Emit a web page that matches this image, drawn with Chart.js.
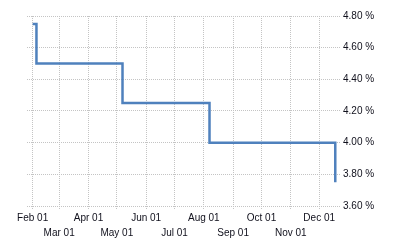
<!DOCTYPE html>
<html>
<head>
<meta charset="utf-8">
<script src="https://cdn.jsdelivr.net/npm/chart.js@4.4.1/dist/chart.umd.min.js"></script>
<style>
html,body{margin:0;padding:0;background:#fff;}
#wrap{position:relative;width:400px;height:250px;}
</style>
</head>
<body>
<div id="wrap"><canvas id="c" width="400" height="250"></canvas></div>
<script>
// data
var changeDates=["2001-02-01","2001-02-05","2001-05-07","2001-08-07","2001-12-18"];
var rates=[4.75,4.50,4.25,4.00,3.75];
var tickMonths=["2001-02-01","2001-03-01","2001-04-01","2001-05-01","2001-06-01","2001-07-01","2001-08-01","2001-09-01","2001-10-01","2001-11-01","2001-12-01"];
var tickLabels=["Feb 01","Mar 01","Apr 01","May 01","Jun 01","Jul 01","Aug 01","Sep 01","Oct 01","Nov 01","Dec 01"];
var yTicks=[3.6,3.8,4.0,4.2,4.4,4.6,4.8];

function dayNum(s){
  var p=s.split("-");
  return Date.UTC(+p[0],+p[1]-1,+p[2])/86400000;
}
var tickDays=tickMonths.map(dayNum);

var txt="#10101c",grid="#c4c4c4",blue="#4f81bd";
var fnt={family:"Liberation Sans",size:10,lineHeight:1.5};

new Chart(document.getElementById("c"),{
  type:"line",
  data:{
    datasets:[{
      data:changeDates.map(function(d,i){return{x:dayNum(d),y:rates[i]};}),
      borderColor:blue,
      borderWidth:2.5,
      pointRadius:0,
      stepped:true,
      fill:false
    }]
  },
  options:{
    responsive:false,
    animation:false,
    plugins:{legend:{display:false},tooltip:{enabled:false}},
    layout:{padding:{top:16,left:27,right:0,bottom:0}},
    scales:{
      x:{
        type:"linear",
        min:dayNum("2001-01-26"),
        max:dayNum("2001-12-23"),
        afterBuildTicks:function(ax){ax.ticks=tickDays.map(function(v){return{value:v};});},
        afterFit:function(ax){ax.height=44;},
        border:{display:false,dash:[1,1]},
        grid:{color:grid,lineWidth:1,tickLength:3,drawTicks:true,tickColor:grid,tickBorderDash:[1,1]},
        ticks:{
          autoSkip:false,maxRotation:0,padding:2,color:txt,font:fnt,
          callback:function(v){
            var i=tickDays.indexOf(v);
            if(i<0)return "";
            return i%2===0?[tickLabels[i],""]:["",tickLabels[i]];
          }
        }
      },
      y:{
        position:"right",
        min:3.6,max:4.8,
        afterBuildTicks:function(ax){ax.ticks=yTicks.map(function(v){return{value:v};});},
        afterFit:function(ax){ax.width=60;},
        border:{display:false,dash:[1,1]},
        grid:{color:grid,lineWidth:1,drawTicks:false},
        ticks:{padding:3,color:txt,font:{family:"Liberation Sans",size:10},
          callback:function(v){return v.toFixed(2)+" %";}}
      }
    }
  }
});
</script>
</body>
</html>
